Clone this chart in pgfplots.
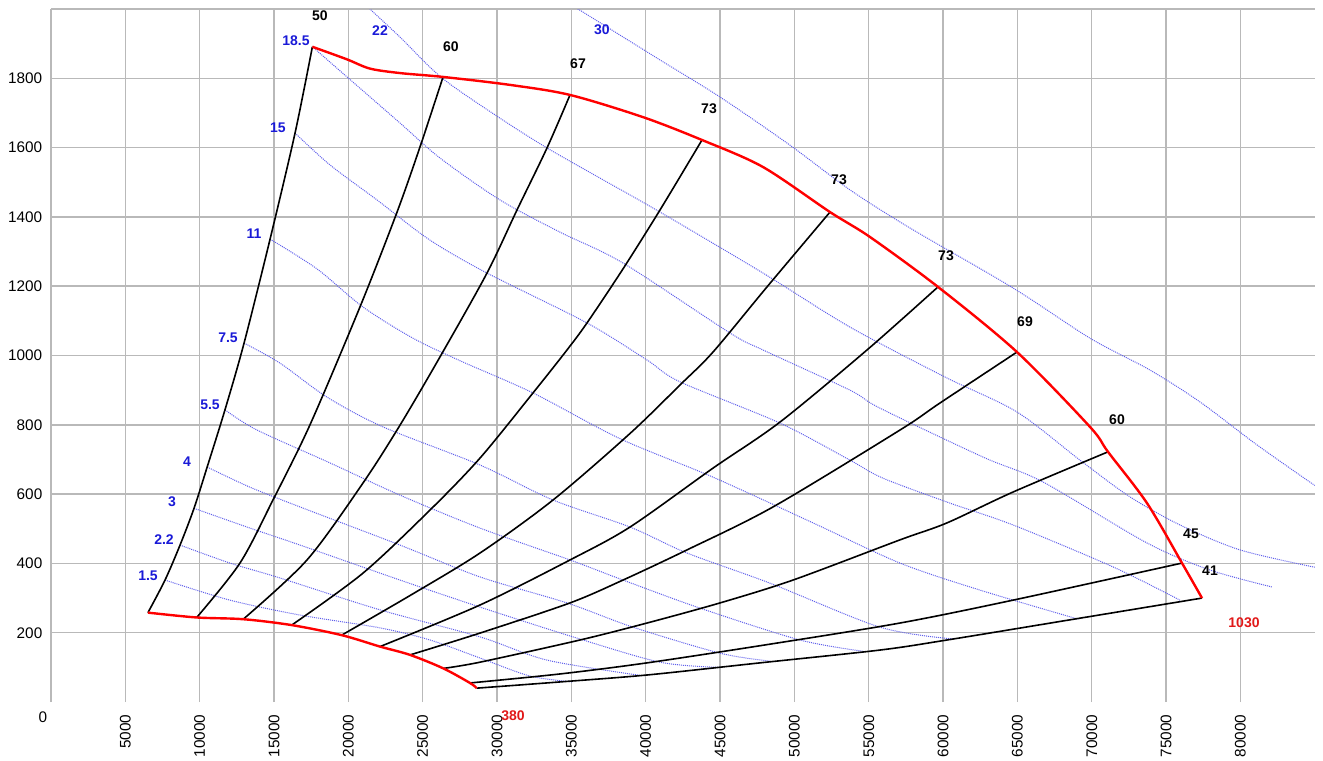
\documentclass[border=0pt]{standalone}
\usepackage{fontspec}
\setmainfont{Liberation Sans}
\usepackage{pgfplots}
\pgfplotsset{compat=1.18}
\definecolor{blueline}{RGB}{95,95,235}
\definecolor{bluelab}{RGB}{25,25,215}
\definecolor{redlab}{RGB}{225,25,25}
\pgfplotsset{
  bl/.style={black, line width=1.2pt, smooth, tension=0.5, no markers},
  rl/.style={red, line width=1.8pt, smooth, tension=0.5, no markers},
  bu/.style={blueline, line width=0.75pt, dash pattern=on 0.75pt off 0.75pt, smooth, tension=0.5, no markers},
}
\tikzset{lab/.style={font=\fontsize{10.5}{12}\selectfont\bfseries, inner sep=0pt}}
\begin{document}
\begin{tikzpicture}
\begin{axis}[
  scale only axis, width=947.8pt, height=519.75pt,
  xmin=0, xmax=85000, ymin=0, ymax=2000,
  axis line style={draw=none},
  tick style={draw=none},
  clip mode=individual,
  xtick={0,5000,10000,15000,20000,25000,30000,35000,40000,45000,50000,55000,60000,65000,70000,75000,80000},
  xticklabels={,5000,10000,15000,20000,25000,30000,35000,40000,45000,50000,55000,60000,65000,70000,75000,80000},
  ytick={200,400,600,800,1000,1200,1400,1600,1800,2000},
  yticklabels={200,400,600,800,1000,1200,1400,1600,1800,},
  grid=major,
  major grid style={color=gray!55, line width=1.1pt},
  xticklabel shift=6pt,
  xticklabel style={rotate=90, anchor=east, font=\fontsize{11.5}{13}\selectfont},
  yticklabel style={xshift=-3pt, font=\fontsize{11.5}{13}\selectfont},
]
% ---------- iso-power lines (blue, dotted) ----------
\addplot[bu] coordinates {(33361,2055)(35446,2000)(40961,1853)(44997,1746)(49705,1607)(53741,1478)(57776,1368)(64704,1195)(69883,1050)(73919,958)(77282,866)(81116,742)(85000,625)};
\addplot[bu] coordinates {(20783,2032)(21456,2000)(23474,1919)(26299,1801)(30200,1685)(33361,1599)(36926,1512)(40961,1414)(47889,1238)(53741,1082)(60130,938)(64973,837)(69211,698)(72574,592)(75937,511)(79972,439)(85000,389)};
\addplot[bu] coordinates {(17580,1891)(19909,1804)(23474,1671)(26164,1570)(30200,1449)(34235,1356)(38473,1267)(45670,1065)(47889,1016)(53741,900)(55759,848)(62686,707)(66722,635)(73717,459)(77954,381)(82124,332)};
\addplot[bu] coordinates {(16411,1642)(18766,1550)(21927,1449)(25492,1333)(29325,1238)(36051,1094)(40087,987)(42307,924)(49033,805)(53741,698)(55960,646)(60467,574)(64704,511)(71430,390)(75937,294)};
\addplot[bu] coordinates {(14730,1336)(17891,1250)(20985,1140)(24348,1050)(27509,985)(32419,892)(38271,760)(44526,649)(51252,517)(57104,401)(62485,323)(69100,239)};
\addplot[bu] coordinates {(12981,1036)(15403,978)(18564,880)(22330,794)(28855,684)(33765,583)(38944,505)(42777,430)(48360,343)(55759,216)(60669,182)};
\addplot[bu] coordinates {(11703,843)(13856,785)(18766,690)(23474,597)(28855,502)(34908,410)(38473,352)(43652,271)(50378,179)(54700,146)};
\addplot[bu] coordinates {(10510,678)(13385,620)(16748,563)(23474,453)(28855,361)(34706,286)(39145,216)(44997,141)(48360,118)};
\addplot[bu] coordinates {(9618,559)(13385,502)(16748,453)(23474,352)(28855,274)(35110,188)(40961,115)(44997,100)};
\addplot[bu] coordinates {(8677,453)(12039,401)(15403,358)(22129,266)(28855,188)(33361,121)(39616,77)};
\addplot[bu] coordinates {(7668,352)(12039,294)(16748,251)(22129,214)(25492,179)(28855,127)(32218,75)(35110,58)};
% ---------- black lines ----------
\addplot[bl] coordinates {(6520,258)(7670,352)(8680,453)(9620,559)(10510,679)(11700,843)(12980,1035)(14730,1335)(16410,1641)(17580,1891)};
\addplot[bl] coordinates {(9800,244)(12710,401)(14930,583)(17420,800)(20780,1140)(23250,1411)(24820,1602)(26370,1804)};
\addplot[bl] coordinates {(12930,239)(17219,410)(20985,632)(23474,799)(26164,996)(29325,1238)(31343,1420)(33361,1599)(34908,1752)};
\addplot[bl] coordinates {(16190,222)(20985,372)(25492,554)(28855,704)(32419,892)(34706,1016)(36051,1094)(38473,1250)(40961,1420)(43786,1622)};
\addplot[bl] coordinates {(19553,193)(24214,309)(28855,430)(33765,583)(38944,775)(42307,915)(44526,1010)(48158,1198)(52396,1414)};
\addplot[bl] coordinates {(22129,160)(28855,280)(34908,410)(38944,505)(44526,675)(49033,808)(54884,1016)(59660,1198)};
\addplot[bl] coordinates {(24150,136)(28855,199)(34908,286)(38473,352)(42777,439)(48562,563)(57104,785)(59794,863)(64973,1010)};
\addplot[bl] coordinates {(26390,97)(28855,115)(35581,179)(40087,228)(44997,286)(49907,352)(57104,468)(60265,517)(64704,606)(71094,722)};
\addplot[bl] coordinates {(28180,55)(34235,81)(40087,113)(48360,167)(57104,228)(64704,294)(76070,401)};
\addplot[bl] coordinates {(28630,40)(34235,58)(40087,78)(47687,113)(55759,150)(60265,179)(69211,242)(77416,300)};
% ---------- red boundary ----------
\addplot[rl] coordinates {(6520,258)(9800,244)(12930,239)(16190,222)(19553,193)(22129,160)(24150,136)(26390,97)(28180,55)(28630,40)};
\addplot[rl] coordinates {(17580,1891)(19889,1855)(21456,1828)(23500,1815)(26366,1804)(30872,1781)(34908,1752)(39817,1688)(43786,1622)(47889,1544)(52396,1414)(55086,1342)(59660,1198)(64973,1010)(69883,794)(71094,722)(73717,574)(76071,401)(77416,300)};
% ---------- labels ----------
\node[lab] at (axis cs:18093,1980) {50};
\node[lab] at (axis cs:26904,1890) {60};
\node[lab] at (axis cs:35446,1841) {67};
\node[lab] at (axis cs:44257,1711) {73};
\node[lab] at (axis cs:53001,1507) {73};
\node[lab] at (axis cs:60198,1287) {73};
\node[lab] at (axis cs:65511,1097) {69};
\node[lab] at (axis cs:71699,814) {60};
\node[lab] at (axis cs:76676,485) {45};
\node[lab] at (axis cs:77954,378) {41};
\node[lab, bluelab] at (axis cs:6524,364) {1.5};
\node[lab, bluelab] at (axis cs:7600,470) {2.2};
\node[lab, bluelab] at (axis cs:8138,577) {3};
\node[lab, bluelab] at (axis cs:9147,693) {4};
\node[lab, bluelab] at (axis cs:10694,857) {5.5};
\node[lab, bluelab] at (axis cs:11905,1050) {7.5};
\node[lab, bluelab] at (axis cs:13654,1351) {11};
\node[lab, bluelab] at (axis cs:15268,1657) {15};
\node[lab, bluelab] at (axis cs:16479,1908) {18.5};
\node[lab, bluelab] at (axis cs:22129,1937) {22};
\node[lab, bluelab] at (axis cs:37060,1939) {30};
\node[lab, redlab] at (axis cs:31074,-40) {380};
\node[lab, redlab] at (axis cs:80241,228) {1030};
\node[font=\fontsize{11.5}{13}\selectfont, inner sep=0pt] at (axis cs:-538,-43) {0};
\coordinate (bbsw) at (axis cs:-3430,-167.4);
\coordinate (bbne) at (axis cs:85555,2026);
\end{axis}
\pgfresetboundingbox
\useasboundingbox (bbsw) rectangle (bbne);
\end{tikzpicture}
\end{document}
